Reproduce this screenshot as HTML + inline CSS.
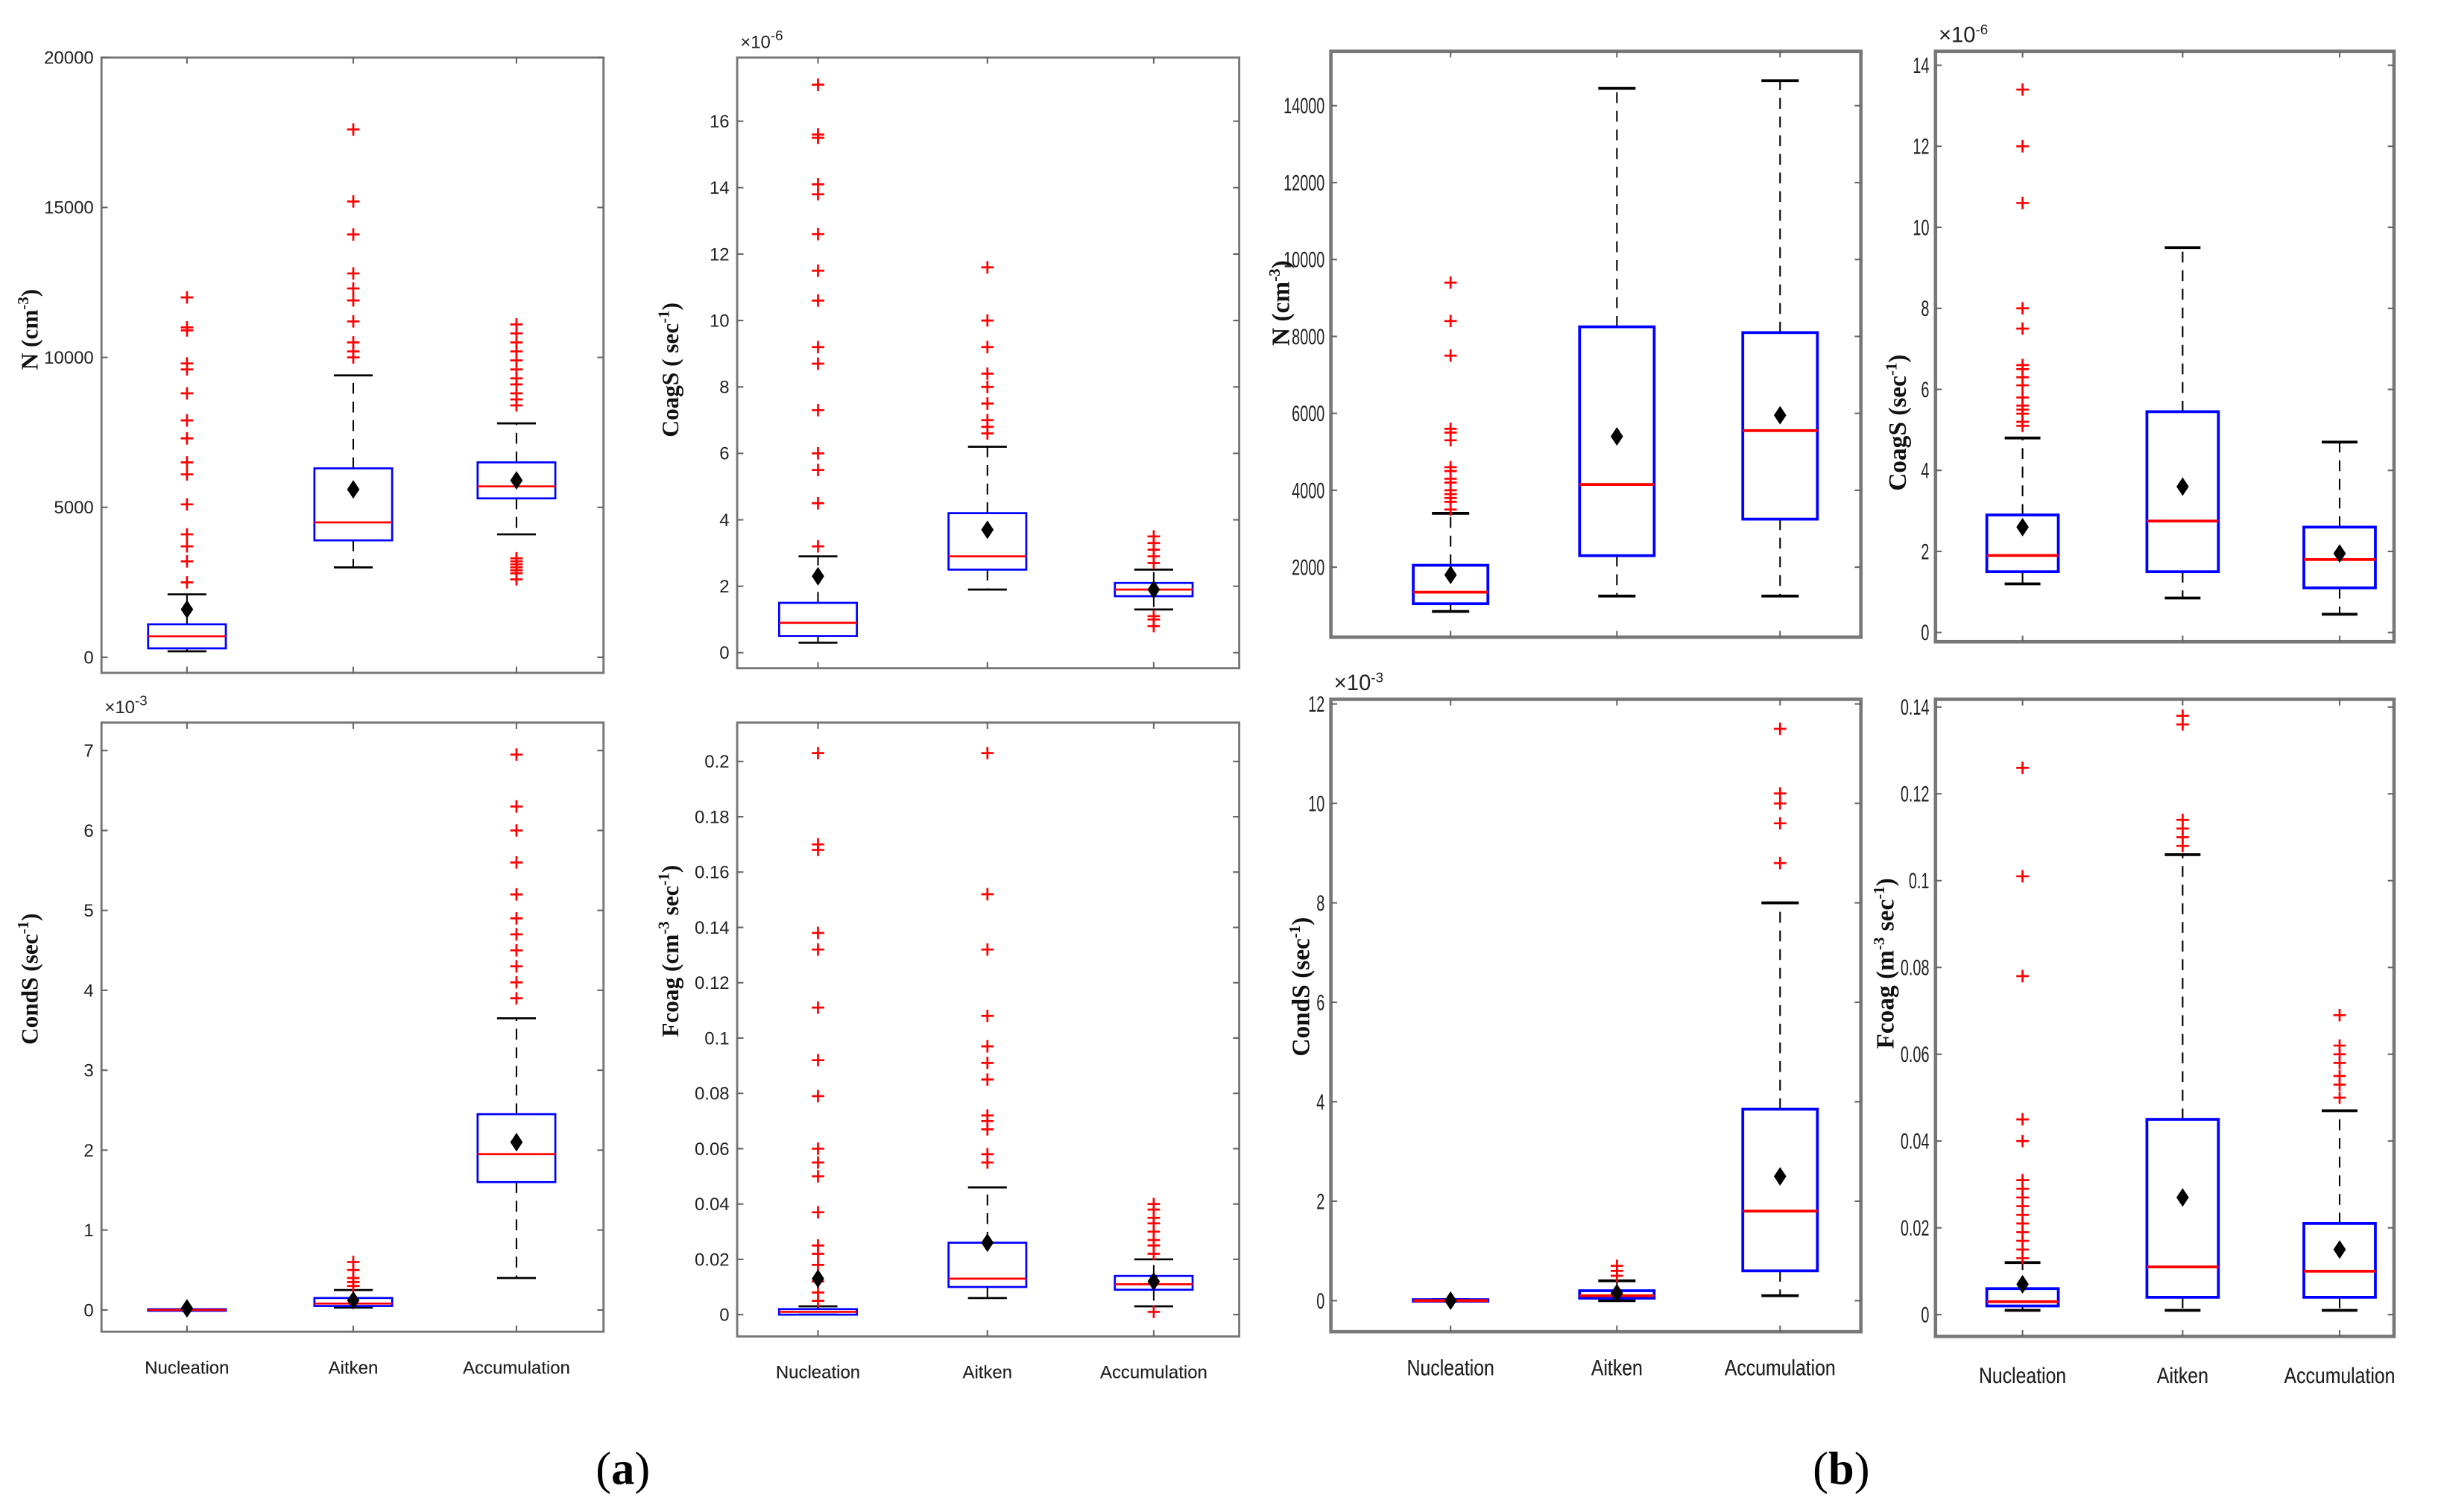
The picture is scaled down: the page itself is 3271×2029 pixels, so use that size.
<!DOCTYPE html>
<html><head><meta charset="utf-8"><style>
html,body{margin:0;padding:0;background:#fff;}
svg{display:block;}
.tk{font-family:"Liberation Sans",sans-serif;font-size:11.5px;fill:#222;}
.tkb{font-family:"Liberation Sans",sans-serif;font-size:14px;fill:#222;}
.yl{font-family:"Liberation Serif",serif;font-weight:bold;font-size:15px;fill:#111;}
.ylb{font-family:"Liberation Serif",serif;font-weight:bold;font-size:16px;fill:#111;}
.cap{font-family:"Liberation Serif",serif;font-size:30px;fill:#000;}
</style></head><body>
<svg id="fig" width="3271" height="2029" viewBox="0 0 1568 973" xmlns="http://www.w3.org/2000/svg">
<text class="cap" x="383" y="955">(<tspan font-weight="bold">a</tspan>)</text>
<text class="cap" x="1166" y="955">(<tspan font-weight="bold">b</tspan>)</text>
</svg>
<script>
const categories=["Nucleation","Aitken","Accumulation"];
// (a) N
const aN_q1=[300,3900,5300], aN_med=[700,4500,5700], aN_q3=[1100,6300,6500], aN_lo=[200,3000,4100], aN_hi=[2100,9400,7800], aN_mean=[1600,5600,5900];
const aN_out=[[2500,3200,3700,4100,5100,6100,6500,7300,7900,8800,9600,9800,10900,11000,12000],[10000,10200,10500,11200,11900,12300,12800,14100,15200,17600],[2600,2800,2900,3000,3100,3200,3300,8400,8600,8800,9100,9300,9600,9900,10200,10500,10800,11100]];
// (a) CoagS
const aC_q1=[0.5,2.5,1.7], aC_med=[0.9,2.9,1.9], aC_q3=[1.5,4.2,2.1], aC_lo=[0.3,1.9,1.3], aC_hi=[2.9,6.2,2.5], aC_mean=[2.3,3.7,1.9];
const aC_out=[[3.2,4.5,5.5,6,7.3,8.7,9.2,10.6,11.5,12.6,13.8,14.1,15.5,15.6,17.1],[6.6,6.8,7,7.5,8,8.4,9.2,10,11.6],[0.8,1,1.1,2.7,2.9,3.1,3.3,3.5]];
// (a) CondS
const aS_q1=[0,0.05,1.6], aS_med=[0,0.08,1.95], aS_q3=[0.01,0.15,2.45], aS_lo=[0,0.03,0.4], aS_hi=[0.01,0.25,3.65], aS_mean=[0.02,0.12,2.1];
const aS_out=[[],[0.3,0.35,0.4,0.5,0.6],[3.9,4.1,4.3,4.5,4.7,4.9,5.2,5.6,6.0,6.3,6.95]];
// (a) Fcoag
const aF_q1=[0,0.01,0.009], aF_med=[0.001,0.013,0.011], aF_q3=[0.002,0.026,0.014], aF_lo=[0,0.006,0.003], aF_hi=[0.003,0.046,0.02], aF_mean=[0.013,0.026,0.012];
const aF_out=[[0.005,0.008,0.012,0.018,0.022,0.025,0.037,0.05,0.055,0.06,0.079,0.092,0.111,0.132,0.138,0.168,0.17,0.203],[0.055,0.058,0.067,0.07,0.072,0.085,0.091,0.097,0.108,0.132,0.152,0.203],[0.001,0.022,0.025,0.027,0.03,0.033,0.035,0.038,0.04]];
// (b) N
const bN_q1=[1050,2300,3250], bN_med=[1350,4150,5550], bN_q3=[2050,8250,8100], bN_lo=[850,1250,1250], bN_hi=[3400,14450,14650], bN_mean=[1800,5400,5950];
const bN_out=[[3500,3700,3800,3900,4000,4200,4300,4500,4600,5300,5500,5600,7500,8400,9400],[],[]];
// (b) CoagS
const bC_q1=[1.5,1.5,1.1], bC_med=[1.9,2.75,1.8], bC_q3=[2.9,5.45,2.6], bC_lo=[1.2,0.85,0.45], bC_hi=[4.8,9.5,4.7], bC_mean=[2.6,3.6,1.95];
const bC_out=[[5.1,5.2,5.4,5.5,5.6,5.8,6.1,6.3,6.5,6.6,7.5,8,10.6,12,13.4],[],[]];
// (b) CondS
const bS_q1=[0,0.05,0.6], bS_med=[0,0.1,1.8], bS_q3=[0.02,0.2,3.85], bS_lo=[0,0,0.1], bS_hi=[0.02,0.4,8.0], bS_mean=[0,0.15,2.5];
const bS_out=[[],[0.5,0.6,0.7],[8.8,9.6,10,10.2,11.5]];
// (b) Fcoag
const bF_q1=[0.002,0.004,0.004], bF_med=[0.003,0.011,0.01], bF_q3=[0.006,0.045,0.021], bF_lo=[0.001,0.001,0.001], bF_hi=[0.012,0.106,0.047], bF_mean=[0.007,0.027,0.015];
const bF_out=[[0.013,0.015,0.017,0.019,0.021,0.023,0.025,0.027,0.029,0.031,0.04,0.045,0.078,0.101,0.126],[0.108,0.11,0.112,0.114,0.136,0.138],[0.05,0.053,0.055,0.058,0.06,0.062,0.069]];
// tick labels
const aN_ticks=[0,5000,10000,15000,20000], aN_tl=["0","5000","10000","15000","20000"];
const aC_ticks=[0,2,4,6,8,10,12,14,16], aC_tl=["0","2","4","6","8","10","12","14","16"];
const aS_ticks=[0,1,2,3,4,5,6,7], aS_tl=["0","1","2","3","4","5","6","7"];
const aF_ticks=[0,0.02,0.04,0.06,0.08,0.1,0.12,0.14,0.16,0.18,0.2], aF_tl=["0","0.02","0.04","0.06","0.08","0.1","0.12","0.14","0.16","0.18","0.2"];
const bN_ticks=[2000,4000,6000,8000,10000,12000,14000], bN_tl=["2000","4000","6000","8000","10000","12000","14000"];
const bC_ticks=[0,2,4,6,8,10,12,14], bC_tl=["0","2","4","6","8","10","12","14"];
const bS_ticks=[0,2,4,6,8,10,12], bS_tl=["0","2","4","6","8","10","12"];
const bF_ticks=[0,0.02,0.04,0.06,0.08,0.1,0.12,0.14], bF_tl=["0","0.02","0.04","0.06","0.08","0.1","0.12","0.14"];

const NS="http://www.w3.org/2000/svg";
const svg=document.getElementById('fig');
function mk(tag,attrs,parent){const e=document.createElementNS(NS,tag);for(const k in attrs)e.setAttribute(k,attrs[k]);(parent||svg).appendChild(e);return e;}

function panel(cfg){
  const g=mk('g',{});
  
  
  const L=cfg.x0,R=cfg.x1,T=cfg.y0,B=cfg.y1;
  const y=v=>cfg.py0+(v-cfg.v0)*(cfg.py1-cfg.py0)/(cfg.v1-cfg.v0);
  const fw=cfg.b?2.2:1.4;
  const fr=mk('rect',{x:L,y:T,width:R-L,height:B-T,fill:'none',stroke:'#777','stroke-width':fw},g);
  
  
  cfg.ticks.forEach((t,i)=>{
    const yy=y(t);
    mk('line',{x1:L,x2:L+4,y1:yy,y2:yy,stroke:'#666','stroke-width':1},g);
    mk('line',{x1:R-4,x2:R,y1:yy,y2:yy,stroke:'#666','stroke-width':1},g);
    const tx=cfg.b
      ? mk('text',{x:0,y:0,transform:`translate(${L-4},${yy+5}) scale(0.68,1)`,'text-anchor':'end',class:'tkb'},g)
      : mk('text',{x:L-5,y:yy+4,'text-anchor':'end',class:'tk'},g);
    tx.textContent=cfg.tl[i];
    
    
  });
  if(cfg.exp){const e=mk('text',{x:L+2,y:T-6,class:cfg.b?'tkb':'tk'},g);e.innerHTML='×10<tspan dy="-5" font-size="9">'+cfg.exp+'</tspan>';
    
    }
  const yl=mk('text',{transform:`translate(${cfg.ylx},${cfg.yly}) rotate(-90)`,'text-anchor':'middle',class:cfg.b?'ylb':'yl'},g);
  yl.innerHTML=cfg.ylabel;
  
  
  const bw=cfg.bw, sw=cfg.b?1.8:1.3;
  categories.forEach((c,i)=>{
    const cx=cfg.cx[i];
    mk('line',{x1:cx,x2:cx,y1:T,y2:T+4,stroke:'#666'},g);
    mk('line',{x1:cx,x2:cx,y1:B-4,y2:B,stroke:'#666'},g);
    const lab=cfg.b
      ? mk('text',{x:0,y:0,transform:`translate(${cx},${cfg.lab}) scale(0.85,1)`,'text-anchor':'middle',class:'tkb'},g)
      : mk('text',{x:cx,y:cfg.lab,'text-anchor':'middle',class:'tk'},g);
    lab.textContent=c;
    
    
    const bg=mk('g',{},g);
    
    
    const q1=y(cfg.q1[i]),q3=y(cfg.q3[i]),lo=y(cfg.lo[i]),hi=y(cfg.hi[i]),md=y(cfg.med[i]);
    mk('line',{x1:cx,x2:cx,y1:q3,y2:hi,stroke:'#000','stroke-width':1,'stroke-dasharray':'7,5'},bg);
    mk('line',{x1:cx,x2:cx,y1:q1,y2:lo,stroke:'#000','stroke-width':1,'stroke-dasharray':'7,5'},bg);
    mk('line',{x1:cx-bw/4,x2:cx+bw/4,y1:hi,y2:hi,stroke:'#000','stroke-width':sw},bg);
    mk('line',{x1:cx-bw/4,x2:cx+bw/4,y1:lo,y2:lo,stroke:'#000','stroke-width':sw},bg);
    mk('rect',{x:cx-bw/2,y:Math.min(q1,q3),width:bw,height:Math.max(1,Math.abs(q1-q3)),fill:'none',stroke:'#00f','stroke-width':sw},bg);
    mk('line',{x1:cx-bw/2,x2:cx+bw/2,y1:md,y2:md,stroke:'#f00','stroke-width':sw},bg);
    cfg.out[i].forEach(v=>{const oy=y(v);
      const p=mk('path',{d:`M${cx-4} ${oy}H${cx+4}M${cx} ${oy-4}V${oy+4}`,stroke:'#f00','stroke-width':1.3},bg);
      
      });
    const my=y(cfg.mean[i]);
    const d=mk('path',{d:`M${cx} ${my-6}L${cx+4} ${my}L${cx} ${my+6}L${cx-4} ${my}Z`,fill:'#000'},bg);
    
    
  });
}
const sup=s=>'<tspan dy="-6" font-size="10">'+s+'</tspan><tspan dy="6">';
panel({name:'panel-a-n',x0:65,x1:388,y0:37,y1:433,v0:0,v1:20000,py0:423,py1:37,ticks:aN_ticks,tl:aN_tl,cx:[120,227,332],bw:50,lab:884,ylx:24,yly:212,ylabel:'N (cm'+sup('-3')+')</tspan>',q1:aN_q1,med:aN_med,q3:aN_q3,lo:aN_lo,hi:aN_hi,mean:aN_mean,out:aN_out});
panel({name:'panel-a-coags',x0:474,x1:797,y0:37,y1:430,v0:0,v1:16,py0:420,py1:78,ticks:aC_ticks,tl:aC_tl,exp:'-6',cx:[526,635,742],bw:50,lab:887,ylx:436,yly:238,ylabel:'CoagS ( sec'+sup('-1')+')</tspan>',q1:aC_q1,med:aC_med,q3:aC_q3,lo:aC_lo,hi:aC_hi,mean:aC_mean,out:aC_out});
panel({name:'panel-a-conds',x0:65,x1:388,y0:465,y1:857,v0:0,v1:7,py0:843,py1:483,ticks:aS_ticks,tl:aS_tl,exp:'-3',cx:[120,227,332],bw:50,lab:884,ylx:24,yly:630,ylabel:'CondS (sec'+sup('-1')+')</tspan>',q1:aS_q1,med:aS_med,q3:aS_q3,lo:aS_lo,hi:aS_hi,mean:aS_mean,out:aS_out});
panel({name:'panel-a-fcoag',x0:474,x1:797,y0:465,y1:860,v0:0,v1:0.2,py0:846,py1:490,ticks:aF_ticks,tl:aF_tl,cx:[526,635,742],bw:50,lab:887,ylx:436,yly:612,ylabel:'Fcoag (cm'+sup('-3')+' sec'+sup('-1')+')</tspan></tspan>',q1:aF_q1,med:aF_med,q3:aF_q3,lo:aF_lo,hi:aF_hi,mean:aF_mean,out:aF_out});
panel({name:'panel-b-n',b:1,x0:856,x1:1197,y0:33,y1:410,v0:2000,v1:14000,py0:365,py1:68,ticks:bN_ticks,tl:bN_tl,cx:[933,1040,1145],bw:48,lab:885,ylx:829,yly:195,ylabel:'N (cm'+sup('-3')+')</tspan>',q1:bN_q1,med:bN_med,q3:bN_q3,lo:bN_lo,hi:bN_hi,mean:bN_mean,out:bN_out});
panel({name:'panel-b-coags',b:1,x0:1245,x1:1540,y0:33,y1:413,v0:0,v1:14,py0:407,py1:42,ticks:bC_ticks,tl:bC_tl,exp:'-6',cx:[1301,1404,1505],bw:46,lab:890,ylx:1226,yly:272,ylabel:'CoagS (sec'+sup('-1')+')</tspan>',q1:bC_q1,med:bC_med,q3:bC_q3,lo:bC_lo,hi:bC_hi,mean:bC_mean,out:bC_out});
panel({name:'panel-b-conds',b:1,x0:856,x1:1197,y0:450,y1:857,v0:0,v1:12,py0:837,py1:453,ticks:bS_ticks,tl:bS_tl,exp:'-3',cx:[933,1040,1145],bw:48,lab:885,ylx:842,yly:635,ylabel:'CondS (sec'+sup('-1')+')</tspan>',q1:bS_q1,med:bS_med,q3:bS_q3,lo:bS_lo,hi:bS_hi,mean:bS_mean,out:bS_out});
panel({name:'panel-b-fcoag',b:1,x0:1245,x1:1540,y0:450,y1:860,v0:0,v1:0.14,py0:846,py1:455,ticks:bF_ticks,tl:bF_tl,cx:[1301,1404,1505],bw:46,lab:890,ylx:1218,yly:620,ylabel:'Fcoag (m'+sup('-3')+' sec'+sup('-1')+')</tspan></tspan>',q1:bF_q1,med:bF_med,q3:bF_q3,lo:bF_lo,hi:bF_hi,mean:bF_mean,out:bF_out});
</script>
</body></html>
